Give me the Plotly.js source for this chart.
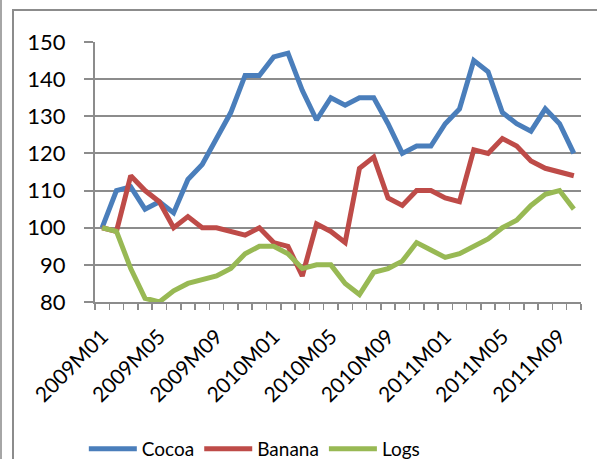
<!DOCTYPE html>
<html>
<head>
<meta charset="utf-8">
<script src="https://cdn.plot.ly/plotly-3.0.1.min.js"></script>
<style>
  html, body { margin: 0; padding: 0; background: #fff; }
  #wrap { position: relative; width: 597px; height: 459px; overflow: hidden; }
  #leftline { position: absolute; left: 0; top: 0; width: 2px; height: 459px; background: #a6a6a6; }
  #frame { position: absolute; left: 12px; top: 9px; width: 620px; height: 480px; border: 2px solid #8c8c8c; box-sizing: border-box; }
  #chart { position: absolute; left: 0; top: 0; width: 597px; height: 459px; }
</style>
</head>
<body>
<div id="wrap">
  <div id="leftline"></div>
  <div id="frame"></div>
  <div id="chart"></div>
</div>
<script>
const months = [
  "2009M01","2009M02","2009M03","2009M04","2009M05","2009M06","2009M07","2009M08","2009M09","2009M10","2009M11","2009M12",
  "2010M01","2010M02","2010M03","2010M04","2010M05","2010M06","2010M07","2010M08","2010M09","2010M10","2010M11","2010M12",
  "2011M01","2011M02","2011M03","2011M04","2011M05","2011M06","2011M07","2011M08","2011M09","2011M10"
];
const tickLabels = ["2009M01","2009M05","2009M09","2010M01","2010M05","2010M09","2011M01","2011M05","2011M09"];

const cocoa = [100,110,111,105,107,104,113,117,124,131,141,141,146,147,137,129,135,133,135,135,128,120,122,122,128,132,145,142,131,128,126,132,128,120];
const banana = [100,99,114,110,107,100,103,100,100,99,98,100,96,95,87,101,99,96,116,119,108,106,110,110,108,107,121,120,124,122,118,116,115,114];
const logs = [100,99,89,81,80,83,85,86,87,89,93,95,95,93,89,90,90,85,82,88,89,91,96,94,92,93,95,97,100,102,106,109,110,105];

const seriesNames = ["Cocoa","Banana","Logs"];
const seriesColors = ["#4a7ebb","#be4b48","#98b954"];
const seriesData = [cocoa, banana, logs];

const traces = seriesData.map((ys, k) => ({
  type: "scatter",
  mode: "lines",
  x: months,
  y: ys,
  name: seriesNames[k],
  line: { color: seriesColors[k], width: 5 },
  hoverinfo: "skip"
}));

const ticktext = months.map(m => tickLabels.includes(m) ? m : "");

const fam = "Lato, 'Open Sans', sans-serif";

const layout = {
  width: 597,
  height: 459,
  margin: { l: 95, r: 16, t: 42, b: 157, autoexpand: false },
  paper_bgcolor: "rgba(0,0,0,0)",
  plot_bgcolor: "rgba(0,0,0,0)",
  font: { family: fam, size: 19, color: "#000" },
  showlegend: true,
  legend: {
    orientation: "h",
    x: -0.023, xanchor: "left",
    y: -0.565, yanchor: "middle",
    font: { family: fam, size: 19, color: "#000" },
    itemwidth: 48,
    bgcolor: "rgba(0,0,0,0)"
  },
  xaxis: {
    type: "category",
    tickmode: "array",
    tickvals: months,
    ticktext: ticktext,
    tickson: "boundaries",
    ticks: "outside",
    ticklen: 6,
    tickwidth: 1.5,
    tickcolor: "#8c8c8c",
    tickangle: -45,
    showgrid: false,
    showline: true,
    linecolor: "#8c8c8c",
    linewidth: 2,
    zeroline: false,
    automargin: false,
    tickfont: { family: fam, size: 21, color: "#000" },
    ticklabelstandoff: 12,
    range: [-0.5, 33.5]
  },
  yaxis: {
    range: [80, 150],
    dtick: 10,
    tick0: 80,
    ticks: "outside",
    ticklen: 9,
    tickwidth: 2,
    tickcolor: "#8c8c8c",
    showgrid: true,
    gridcolor: "#8c8c8c",
    gridwidth: 2,
    showline: true,
    linecolor: "#8c8c8c",
    linewidth: 2,
    zeroline: false,
    automargin: false,
    tickfont: { family: fam, size: 22, color: "#000" },
    ticklabelstandoff: 14
  }
};

Plotly.newPlot("chart", traces, layout, { displayModeBar: false, staticPlot: true });
</script>
</body>
</html>
